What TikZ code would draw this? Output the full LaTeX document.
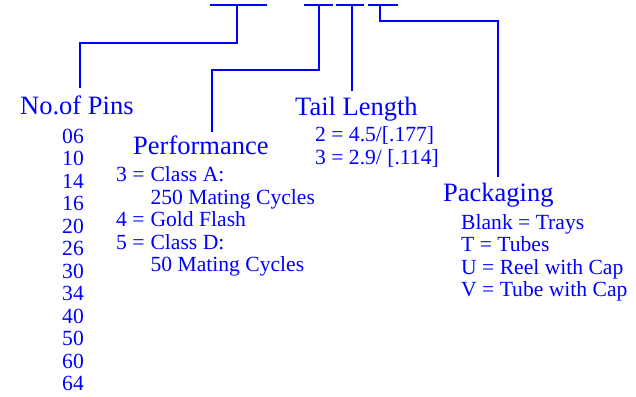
\documentclass[tikz,border=0pt]{standalone}
\usepackage{fontspec}
\setmainfont{Liberation Serif}
\definecolor{ink}{RGB}{0,0,255}
\begin{document}
\begin{tikzpicture}[x=1pt,y=-1pt,
  conn/.style={draw=ink,line width=1.9pt},
  bar/.style={draw=ink,line width=1.9pt},
  head/.style={anchor=base west,inner sep=0pt,text=ink,font=\fontsize{26.5}{30}\selectfont},
  list/.style={anchor=base west,inner sep=0pt,text=ink,font=\fontsize{21.6}{22.5}\selectfont}]
\useasboundingbox (0,0) rectangle (636,396);
% part-number bars
\coordinate (b1l) at (210,5); \coordinate (b1r) at (267,5);
\coordinate (b2l) at (304,5); \coordinate (b2r) at (333,5);
\coordinate (b3l) at (336,5); \coordinate (b3r) at (364,5);
\coordinate (b4l) at (368,5); \coordinate (b4r) at (398,5);
\draw[bar] (b1l) -- (b1r);
\draw[bar] (b2l) -- (b2r);
\draw[bar] (b3l) -- (b3r);
\draw[bar] (b4l) -- (b4r);
\coordinate (t1) at (237,5);
\coordinate (t2) at (319,5);
\coordinate (t3) at (352,5);
\coordinate (t4) at (380,5);
% headings
\node[head] (pins) at (20,114) {No.of Pins};
\node[head] (perf) at (133,154) {Performance};
\node[head] (tail) at (295,115) {Tail Length};
\node[head] (pack) at (443,201) {Packaging};
% connector ends
\coordinate (e1) at (80,88);
\coordinate (e2) at (212,132);
\coordinate (e3) at (352,91);
\coordinate (e4) at (498,177);
\draw[conn] (t1) -- (237,43) -| (e1);
\draw[conn] (t2) -- (319,70) -| (e2);
\draw[conn] (t3) -- (e3);
\draw[conn] (t4) -- (380,21) -| (e4);
% lists
\node[list] (pinlist) at (62,143.3) {\begin{tabular}[t]{@{}l@{}}06\\10\\14\\16\\20\\26\\30\\34\\40\\50\\60\\64\end{tabular}};
\node[list] (perflist) at (116,181.7) {\begin{tabular}[t]{@{}l@{\hspace{6pt}}l@{}}3 =&Class A:\\ &250 Mating Cycles\\4 =&Gold Flash\\5 =&Class D:\\ &50 Mating Cycles\end{tabular}};
\node[list] (taillist) at (315,141.7) {\begin{tabular}[t]{@{}l@{}}2 = 4.5/[.177]\\3 = 2.9/ [.114]\end{tabular}};
\node[list] (packlist) at (461,229.3) {\begin{tabular}[t]{@{}l@{}}Blank = Trays\\T = Tubes\\U = Reel with Cap\\V = Tube with Cap\end{tabular}};
\end{tikzpicture}
\end{document}
